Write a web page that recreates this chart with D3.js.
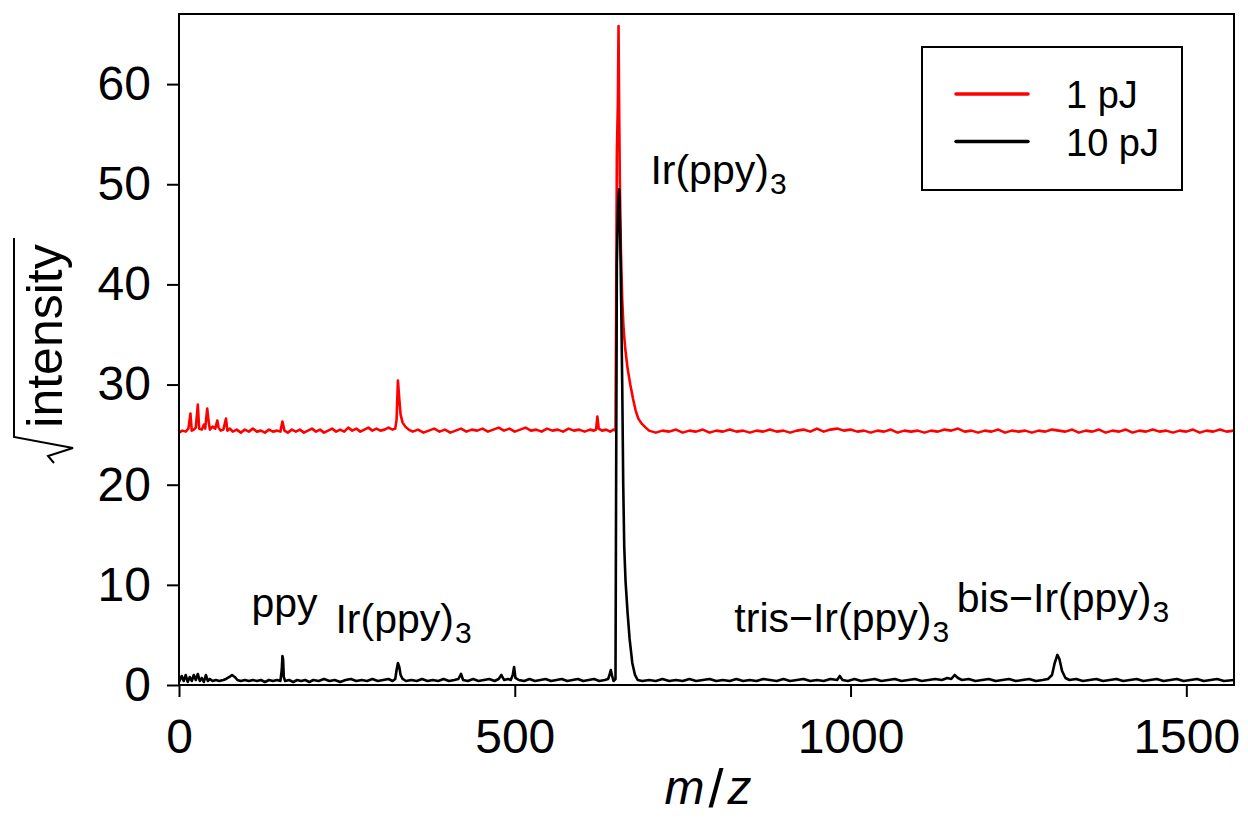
<!DOCTYPE html>
<html>
<head>
<meta charset="utf-8">
<script src="https://cdn.jsdelivr.net/npm/d3@7.9.0/dist/d3.min.js"></script>
<style>
  html, body { margin: 0; padding: 0; background: #fff; }
  svg { display: block; font-family: "Liberation Sans", Arial, Helvetica, sans-serif; }
</style>
</head>
<body>
<svg id="chart" width="1248" height="823"></svg>
<script>
// spectrum at 1 pJ: [m/z, sqrt(intensity)]
const spec1pJ = [
  [0, 25.2], [5, 25.4], [10, 25.3], [14, 25.6], [17, 27.1], [19, 25.4], [22, 25.5], [25, 25.7],
  [28, 28.0], [30, 25.6], [34, 25.5], [37, 26.0], [39, 25.6], [42, 27.6], [44, 26.4], [46, 25.5],
  [50, 25.8], [54, 25.6], [57, 26.4], [59, 25.7], [62, 25.4], [66, 25.5], [70, 26.6], [72, 25.4],
  [76, 25.6], [80, 25.3], [86, 25.5], [92, 25.2], [98, 25.5], [104, 25.3], [110, 25.6], [116, 25.3],
  [122, 25.4], [128, 25.2], [134, 25.5], [140, 25.3], [146, 25.4], [151, 25.3], [154, 26.3], [157, 25.4],
  [162, 25.2], [168, 25.5], [174, 25.3], [180, 25.5], [186, 25.2], [192, 25.4], [198, 25.6], [204, 25.3],
  [210, 25.5], [216, 25.2], [222, 25.4], [228, 25.6], [234, 25.3], [240, 25.5], [246, 25.3], [252, 25.7],
  [258, 25.4], [264, 25.6], [270, 25.3], [276, 25.5], [282, 25.7], [288, 25.4], [294, 25.6], [300, 25.4],
  [306, 25.5], [312, 25.7], [318, 25.5], [322, 25.6], [324, 26.5], [326, 30.4], [328, 28.6], [330, 27.0],
  [333, 26.2], [337, 25.8], [342, 25.5], [348, 25.3], [356, 25.5], [364, 25.2], [372, 25.4], [380, 25.6],
  [388, 25.3], [396, 25.5], [404, 25.2], [412, 25.4], [420, 25.6], [428, 25.3], [436, 25.5], [444, 25.4],
  [452, 25.6], [460, 25.3], [468, 25.5], [476, 25.7], [484, 25.4], [492, 25.6], [500, 25.3], [508, 25.5],
  [516, 25.7], [524, 25.4], [532, 25.5], [540, 25.3], [548, 25.6], [556, 25.4], [564, 25.5], [572, 25.3],
  [580, 25.6], [588, 25.4], [596, 25.5], [604, 25.3], [612, 25.5], [618, 25.4], [621, 25.5], [623, 26.8],
  [625, 25.6], [630, 25.4], [636, 25.5], [642, 25.3], [647, 25.5], [650, 25.4], [651, 38.0], [652, 53.0],
  [653.5, 58.0], [654.5, 65.8], [655.5, 57.0], [656.5, 50.0], [658, 43.5], [660, 38.5], [662, 35.6],
  [664.5, 33.6], [668, 31.6], [672, 30.0], [676, 28.6], [680, 27.4], [684, 26.6], [689, 26.1], [695, 25.7],
  [700, 25.4], [710, 25.2], [720, 25.4], [730, 25.3], [740, 25.5], [750, 25.2], [760, 25.4], [770, 25.3],
  [780, 25.5], [790, 25.2], [800, 25.4], [810, 25.3], [820, 25.5], [830, 25.3], [840, 25.4], [850, 25.2],
  [860, 25.4], [870, 25.3], [880, 25.5], [890, 25.3], [900, 25.4], [910, 25.2], [920, 25.4], [930, 25.5],
  [940, 25.3], [950, 25.6], [960, 25.3], [970, 25.5], [980, 25.6], [990, 25.4], [1000, 25.5], [1010, 25.3],
  [1020, 25.4], [1030, 25.2], [1040, 25.4], [1050, 25.3], [1060, 25.5], [1070, 25.2], [1080, 25.4], [1090, 25.3],
  [1100, 25.4], [1110, 25.2], [1120, 25.4], [1130, 25.3], [1140, 25.5], [1150, 25.4], [1160, 25.6], [1170, 25.3],
  [1180, 25.4], [1190, 25.2], [1200, 25.4], [1210, 25.3], [1220, 25.5], [1230, 25.2], [1240, 25.4], [1250, 25.3],
  [1260, 25.4], [1270, 25.2], [1280, 25.4], [1290, 25.3], [1300, 25.5], [1310, 25.4], [1320, 25.3], [1330, 25.5],
  [1340, 25.2], [1350, 25.4], [1360, 25.3], [1370, 25.5], [1380, 25.2], [1390, 25.4], [1400, 25.3], [1410, 25.5],
  [1420, 25.2], [1430, 25.4], [1440, 25.3], [1450, 25.5], [1460, 25.3], [1470, 25.4], [1480, 25.2], [1490, 25.4],
  [1500, 25.3], [1510, 25.5], [1520, 25.2], [1530, 25.4], [1540, 25.3], [1550, 25.5], [1560, 25.3], [1571, 25.4]
];

// spectrum at 10 pJ
const spec10pJ = [
  [0, 0.3], [4, 0.9], [7, 0.4], [10, 1.0], [13, 0.3], [16, 0.8], [19, 0.4], [22, 1.0], [25, 0.5], [28, 1.1],
  [31, 0.4], [34, 0.7], [37, 0.3], [40, 1.0], [43, 0.4], [46, 0.6], [50, 0.4], [55, 0.5], [60, 0.4], [66, 0.5],
  [70, 0.6], [75, 0.8], [79, 1.0], [83, 0.8], [87, 0.5], [92, 0.4], [98, 0.5], [104, 0.4], [110, 0.5], [116, 0.4],
  [122, 0.5], [128, 0.3], [134, 0.5], [140, 0.4], [146, 0.5], [151, 0.4], [153, 1.5], [154, 2.9], [155, 2.6],
  [156, 0.8], [158, 0.4], [164, 0.5], [170, 0.3], [176, 0.5], [182, 0.4], [188, 0.5], [194, 0.3],
  [200, 0.5], [208, 0.4], [216, 0.6], [224, 0.4], [232, 0.5], [240, 0.3], [248, 0.5], [256, 0.6], [264, 0.4],
  [272, 0.5], [280, 0.4], [288, 0.6], [296, 0.4], [304, 0.5], [312, 0.6], [318, 0.4], [322, 0.6], [324, 1.5],
  [326, 2.2], [328, 1.8], [330, 1.0], [333, 0.6], [338, 0.4], [346, 0.5], [354, 0.4], [362, 0.6], [370, 0.4],
  [378, 0.5], [386, 0.4], [394, 0.6], [402, 0.4], [410, 0.5], [416, 0.6], [420, 1.1], [423, 0.5], [430, 0.4],
  [438, 0.6], [446, 0.4], [454, 0.5], [462, 0.6], [470, 0.4], [476, 0.6], [480, 1.0], [484, 0.5], [490, 0.6],
  [494, 0.5], [497, 1.0], [499, 1.8], [501, 0.7], [506, 0.5], [514, 0.4], [522, 0.6], [530, 0.4], [538, 0.5],
  [546, 0.6], [554, 0.4], [562, 0.5], [570, 0.6], [578, 0.4], [586, 0.5], [594, 0.6], [602, 0.4], [610, 0.5],
  [618, 0.6], [626, 0.4], [634, 0.5], [639, 0.6], [641, 1.0], [643, 1.5], [645, 0.9], [647, 0.4], [650, 0.6],
  [651, 22.0], [652, 42.0], [654, 48.5], [655.5, 49.5], [657, 45.0], [658.5, 38.0], [660, 30.0], [661.5, 20.0],
  [663, 13.8], [665, 10.3], [668, 7.2], [671, 4.6], [675, 2.2], [679, 1.0], [683, 0.5],
  [690, 0.4], [700, 0.5], [710, 0.4], [720, 0.6], [730, 0.4], [740, 0.5], [750, 0.4], [760, 0.6], [770, 0.4],
  [780, 0.5], [790, 0.6], [800, 0.4], [810, 0.5], [820, 0.4], [830, 0.6], [840, 0.4], [850, 0.5], [860, 0.4],
  [870, 0.6], [880, 0.5], [890, 0.4], [900, 0.6], [910, 0.4], [920, 0.5], [930, 0.6], [940, 0.4], [950, 0.5],
  [960, 0.4], [970, 0.6], [980, 0.5], [984, 0.9], [988, 0.5], [996, 0.4], [1006, 0.6], [1016, 0.4], [1026, 0.5],
  [1036, 0.6], [1046, 0.4], [1056, 0.5], [1066, 0.6], [1076, 0.4], [1086, 0.5], [1096, 0.6], [1106, 0.4],
  [1116, 0.5], [1126, 0.6], [1136, 0.5], [1144, 0.7], [1150, 0.6], [1155, 1.0], [1160, 0.7], [1166, 0.5],
  [1176, 0.6], [1186, 0.4], [1196, 0.5], [1206, 0.6], [1216, 0.4], [1226, 0.5], [1236, 0.6], [1246, 0.4],
  [1256, 0.5], [1266, 0.6], [1276, 0.4], [1286, 0.5], [1294, 0.6], [1300, 1.0], [1304, 2.2], [1308, 3.0],
  [1311, 2.6], [1315, 1.4], [1320, 0.7], [1326, 0.5], [1336, 0.6], [1346, 0.4], [1356, 0.5], [1366, 0.6],
  [1376, 0.4], [1386, 0.5], [1396, 0.6], [1406, 0.4], [1416, 0.5], [1426, 0.6], [1436, 0.4], [1446, 0.5],
  [1456, 0.6], [1466, 0.4], [1476, 0.5], [1486, 0.6], [1496, 0.4], [1506, 0.5], [1516, 0.6], [1526, 0.4],
  [1536, 0.5], [1546, 0.6], [1556, 0.4], [1571, 0.5]
];

const seriesNames = ['1 pJ', '10 pJ'];
const seriesColors = ['#ff0000', '#000000'];
const xTicks = [0, 500, 1000, 1500];
const yTicks = [0, 10, 20, 30, 40, 50, 60];

// peak labels, anchored at their left baseline in data units
const peakLabels = [
  { mz: 702, v: 50.0, text: 'Ir(ppy)', sub: '3' },
  { mz: 108, v: 6.8, text: 'ppy', sub: '' },
  { mz: 233, v: 5.2, text: 'Ir(ppy)', sub: '3' },
  { mz: 827, v: 5.3, text: 'tris\u2212Ir(ppy)', sub: '3' },
  { mz: 1158, v: 7.3, text: 'bis\u2212Ir(ppy)', sub: '3' }
];

const svg = d3.select('#chart');
const pLeft = 179, pRight = 1234, pTop = 14, pBottom = 685;

const x = d3.scaleLinear().domain([0, 1571]).range([pLeft, pRight]);
const y = d3.scaleLinear().domain([0, 67]).range([pBottom, pTop]);

svg.append('clipPath').attr('id', 'plot-clip')
  .append('rect').attr('x', pLeft).attr('y', pTop)
  .attr('width', pRight - pLeft).attr('height', pBottom - pTop);

const line = d3.line().x(d => x(d[0])).y(d => y(d[1]));

const plot = svg.append('g').attr('clip-path', 'url(#plot-clip)');
[spec1pJ, spec10pJ].forEach((s, i) => {
  plot.append('path')
    .datum(s)
    .attr('d', line)
    .attr('fill', 'none')
    .attr('stroke', seriesColors[i])
    .attr('stroke-width', 2.6)
    .attr('stroke-linejoin', 'round');
});

// axes
const xAxis = svg.append('g').attr('transform', `translate(0,${pBottom})`)
  .call(d3.axisBottom(x).tickValues(xTicks).tickSize(12).tickPadding(10).tickFormat(d3.format('d')));
const yAxis = svg.append('g').attr('transform', `translate(${pLeft},0)`)
  .call(d3.axisLeft(y).tickValues(yTicks).tickSize(12).tickPadding(16).tickFormat(d3.format('d')));

[xAxis, yAxis].forEach(g => {
  g.select('.domain').remove();
  g.selectAll('.tick line').attr('stroke', '#000').attr('stroke-width', 2);
  g.selectAll('.tick text').attr('fill', '#000').attr('font-size', 48)
    .attr('font-family', '"Liberation Sans", Arial, sans-serif');
});
xAxis.selectAll('.tick text').attr('dy', '0.95em');

// frame
svg.append('rect')
  .attr('x', pLeft).attr('y', pTop)
  .attr('width', pRight - pLeft).attr('height', pBottom - pTop)
  .attr('fill', 'none').attr('stroke', '#000').attr('stroke-width', 2);

// peak labels
peakLabels.forEach(p => {
  const t = svg.append('text')
    .attr('x', x(p.mz)).attr('y', y(p.v))
    .attr('font-size', 41).attr('fill', '#000')
    .text(p.text);
  if (p.sub) {
    t.append('tspan').attr('dx', 1).attr('dy', 10).attr('font-size', 30).text(p.sub);
  }
});

// x title
svg.append('text')
  .attr('x', 708).attr('y', 804)
  .attr('text-anchor', 'middle')
  .attr('font-size', 48).attr('font-style', 'italic')
  .call(t => {
    t.append('tspan').text('m');
    t.append('tspan').attr('dx', 4).attr('dy', 3).attr('font-size', 54)
      .attr('font-style', 'normal').attr('font-weight', 300).text('/');
    t.append('tspan').attr('dx', 4).attr('dy', -3).text('z');
  });

// y title with radical sign
const yTitle = svg.append('g').attr('transform', 'translate(62,336) rotate(-90)');
yTitle.append('text')
  .attr('text-anchor', 'middle')
  .attr('font-size', 50)
  .text('intensity');
yTitle.append('path')
  .attr('d', 'M-127,-8 L-120,-14 L-112,11 L-101,-48 L98,-48')
  .attr('fill', 'none').attr('stroke', '#000').attr('stroke-width', 2);

// legend
const legend = svg.append('g');
legend.append('rect')
  .attr('x', 922).attr('y', 47).attr('width', 260).attr('height', 143)
  .attr('fill', '#fff').attr('stroke', '#000').attr('stroke-width', 2);
seriesNames.forEach((name, i) => {
  const ly = 94 + i * 47.5;
  legend.append('line')
    .attr('x1', 956).attr('x2', 1028).attr('y1', ly).attr('y2', ly)
    .attr('stroke', seriesColors[i]).attr('stroke-width', 3.5).attr('stroke-linecap', 'round');
  legend.append('text')
    .attr('x', 1066).attr('y', ly + 14)
    .attr('font-size', 38).attr('fill', '#000')
    .text(name);
});
</script>
</body>
</html>
